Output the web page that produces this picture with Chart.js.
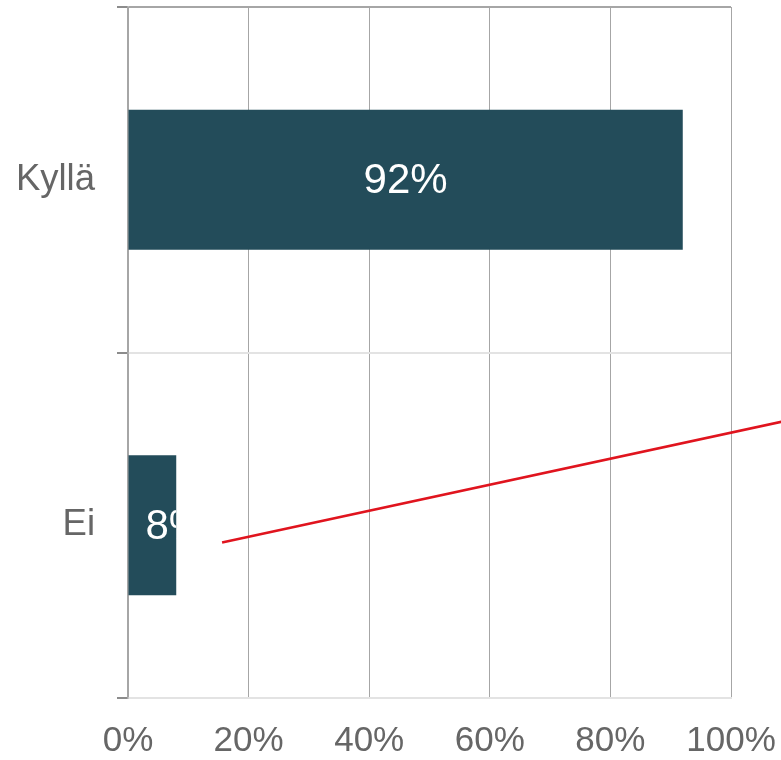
<!DOCTYPE html>
<html>
<head>
<meta charset="utf-8">
<script src="https://cdn.jsdelivr.net/npm/chart.js@4/dist/chart.umd.min.js"></script>
<style>
    body { margin: 0; background: #fff; }
    #wrap { width: 781px; height: 760px; }
</style>
</head>
<body>
<div id="wrap"><canvas id="myChart"></canvas></div>
<script>
const categories = ['Kyllä', 'Ei'];
const shares = [92, 8];
const xTicks = [0, 20, 40, 60, 80, 100];

// red pointer line, in axis values: [x%, category index]
const pointerFrom = [15.6, 1.05];
const pointerTo = [108.5, 0.70];

const barLabels = {
    id: 'barLabels',
    afterDatasetsDraw(chart) {
        const ctx = chart.ctx;
        const meta = chart.getDatasetMeta(0);
        ctx.save();
        ctx.font = '42px "Liberation Sans", Arial, sans-serif';
        ctx.fillStyle = '#ffffff';
        ctx.textBaseline = 'middle';
        ctx.textAlign = 'center';
        meta.data.forEach((bar, i) => {
            const text = shares[i] + '%';
            const w = ctx.measureText(text).width;
            const left = bar.base;
            const right = bar.x;
            const top = bar.y - bar.height / 2;
            let cx = (left + right) / 2;
            if (w > right - left) cx = left + 17 + w / 2;
            ctx.save();
            ctx.beginPath();
            ctx.rect(left, top, right - left, bar.height);
            ctx.clip();
            ctx.fillText(text, cx, bar.y + 2);
            ctx.restore();
        });
        ctx.restore();
    }
};

const pointerLine = {
    id: 'pointerLine',
    afterDraw(chart) {
        const x = chart.scales.x, y = chart.scales.y;
        const ctx = chart.ctx;
        ctx.save();
        ctx.strokeStyle = '#e0141e';
        ctx.lineWidth = 2.5;
        ctx.beginPath();
        ctx.moveTo(x.getPixelForValue(pointerFrom[0]), y.getPixelForValue(pointerFrom[1]));
        ctx.lineTo(x.getPixelForValue(pointerTo[0]), y.getPixelForValue(pointerTo[1]));
        ctx.stroke();
        ctx.restore();
    }
};

const ctx = document.getElementById('myChart').getContext('2d');
const chart = new Chart(ctx, {
    type: 'bar',
    data: {
        labels: categories,
        datasets: [{
            data: shares,
            backgroundColor: '#234c5a',
            barPercentage: 0.405,
            categoryPercentage: 1
        }]
    },
    options: {
        indexAxis: 'y',
        responsive: true,
        maintainAspectRatio: false,
        animation: false,
        layout: {
            padding: {top: 7, right: 0, left: 0, bottom: 0}
        },
        plugins: {
            legend: {display: false},
            tooltip: {enabled: false}
        },
        scales: {
            x: {
                min: 0,
                max: 100,
                afterBuildTicks: (scale) => {
                    scale.ticks = xTicks.map(v => ({value: v}));
                },
                afterFit: (scale) => {
                    scale.height = 62;
                    scale.paddingLeft = 0;
                    scale.paddingRight = 50;
                },
                grid: {
                    color: '#a6a6a6',
                    lineWidth: 1,
                    drawTicks: false
                },
                border: {color: '#e3e3e3', width: 2},
                ticks: {
                    padding: 22,
                    color: '#666666',
                    font: {family: '"Liberation Sans", Arial, sans-serif', size: 35},
                    maxRotation: 0,
                    callback: (v) => v + '%'
                }
            },
            y: {
                afterFit: (scale) => {
                    scale.width = 128;
                    scale.paddingTop = 0;
                    scale.paddingBottom = 0;
                },
                grid: {
                    offset: true,
                    color: (c) => c.index === 0 ? '#a6a6a6' : '#e3e3e3',
                    lineWidth: 2,
                    tickColor: '#8c8c8c',
                    tickLength: 11
                },
                border: {color: '#a6a6a6', width: 1.5},
                ticks: {
                    padding: 22,
                    color: '#666666',
                    font: {family: '"Liberation Sans", Arial, sans-serif', size: 36.5}
                }
            }
        }
    },
    plugins: [barLabels, pointerLine]
});
</script>
</body>
</html>
